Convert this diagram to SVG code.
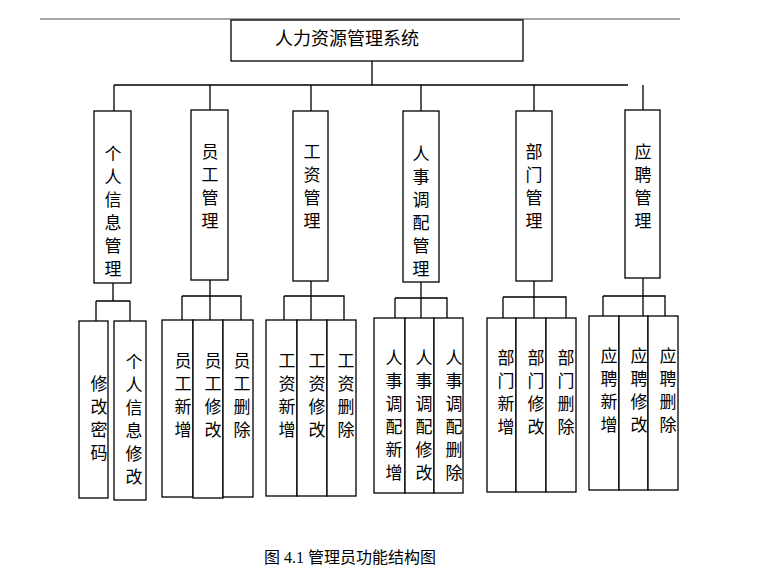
<svg xmlns="http://www.w3.org/2000/svg" width="783" height="578" viewBox="0 0 783 578">
<style>
rect{fill:#fff;stroke:#000;stroke-width:1.3}
line,path{stroke:#000;stroke-width:1.3;fill:none}
text{font-family:"Liberation Serif","Noto Sans CJK SC",serif;font-size:17px;text-anchor:middle;fill:#000}
</style>
<rect width="783" height="578" style="stroke:none"/>
<line x1="40" y1="19" x2="680" y2="19" style="stroke:#888"/>
<g id="connectors">
<path d="M372 61V85M114 85H628M114 85V111M210 85V110M311 85V111M421 85V111M534 85V111M643 85V110"/>
<path d="M113 283V301M96 301H130M96 301V321M130 301V321"/>
<path d="M210 280V320M182 296H241V320M182 296V320"/>
<path d="M311 281V320M284 296H344V320M284 296V320"/>
<path d="M421 282V318M395 298H447V318M395 298V318"/>
<path d="M534 281V318M503 297H566V318M503 297V318"/>
<path d="M643 278V316M603 296H665V316M603 296V316"/>
</g>
<g id="root"><rect x="231" y="20" width="292" height="41"/><text x="347" y="45" style="font-size:18px">人力资源管理系统</text></g>
<g id="m1"><rect x="94" y="111" width="37" height="172"/><text x="113"><tspan x="113" y="160">个</tspan><tspan x="113" y="183">人</tspan><tspan x="113" y="206">信</tspan><tspan x="113" y="229">息</tspan><tspan x="113" y="252">管</tspan><tspan x="113" y="275">理</tspan></text></g>
<g id="m2"><rect x="191" y="110" width="37" height="170"/><text x="210"><tspan x="210" y="158">员</tspan><tspan x="210" y="181">工</tspan><tspan x="210" y="204">管</tspan><tspan x="210" y="227">理</tspan></text></g>
<g id="m3"><rect x="293" y="111" width="35" height="170"/><text x="312"><tspan x="312" y="158">工</tspan><tspan x="312" y="181">资</tspan><tspan x="312" y="204">管</tspan><tspan x="312" y="227">理</tspan></text></g>
<g id="m4"><rect x="403" y="111" width="36" height="171"/><text x="421"><tspan x="421" y="160">人</tspan><tspan x="421" y="183">事</tspan><tspan x="421" y="206">调</tspan><tspan x="421" y="229">配</tspan><tspan x="421" y="252">管</tspan><tspan x="421" y="275">理</tspan></text></g>
<g id="m5"><rect x="516" y="111" width="36" height="170"/><text x="534"><tspan x="534" y="158">部</tspan><tspan x="534" y="181">门</tspan><tspan x="534" y="204">管</tspan><tspan x="534" y="227">理</tspan></text></g>
<g id="m6"><rect x="625" y="110" width="35" height="168"/><text x="643"><tspan x="643" y="158">应</tspan><tspan x="643" y="181">聘</tspan><tspan x="643" y="204">管</tspan><tspan x="643" y="227">理</tspan></text></g>
<g id="l1a"><rect x="79" y="321" width="29" height="177"/><text><tspan x="99" y="390">修</tspan><tspan x="99" y="413">改</tspan><tspan x="99" y="436">密</tspan><tspan x="99" y="459">码</tspan></text></g>
<g id="l1b"><rect x="114" y="321" width="32" height="179"/><text><tspan x="134" y="368">个</tspan><tspan x="134" y="391">人</tspan><tspan x="134" y="414">信</tspan><tspan x="134" y="437">息</tspan><tspan x="134" y="460">修</tspan><tspan x="134" y="483">改</tspan></text></g>
<g id="l2a"><rect x="162" y="320" width="31" height="177"/><text><tspan x="183" y="367">员</tspan><tspan x="183" y="390">工</tspan><tspan x="183" y="413">新</tspan><tspan x="183" y="436">增</tspan></text></g>
<g id="l2b"><rect x="193" y="320" width="30" height="178"/><text><tspan x="213" y="367">员</tspan><tspan x="213" y="390">工</tspan><tspan x="213" y="413">修</tspan><tspan x="213" y="436">改</tspan></text></g>
<g id="l2c"><rect x="223" y="320" width="30" height="177"/><text><tspan x="242" y="367">员</tspan><tspan x="242" y="390">工</tspan><tspan x="242" y="413">删</tspan><tspan x="242" y="436">除</tspan></text></g>
<g id="l3a"><rect x="266" y="320" width="31" height="176"/><text><tspan x="287" y="367">工</tspan><tspan x="287" y="390">资</tspan><tspan x="287" y="413">新</tspan><tspan x="287" y="436">增</tspan></text></g>
<g id="l3b"><rect x="297" y="320" width="30" height="176"/><text><tspan x="317" y="367">工</tspan><tspan x="317" y="390">资</tspan><tspan x="317" y="413">修</tspan><tspan x="317" y="436">改</tspan></text></g>
<g id="l3c"><rect x="327" y="320" width="29" height="176"/><text><tspan x="346" y="367">工</tspan><tspan x="346" y="390">资</tspan><tspan x="346" y="413">删</tspan><tspan x="346" y="436">除</tspan></text></g>
<g id="l4a"><rect x="374" y="318" width="31" height="175"/><text><tspan x="394" y="364">人</tspan><tspan x="394" y="387">事</tspan><tspan x="394" y="410">调</tspan><tspan x="394" y="433">配</tspan><tspan x="394" y="456">新</tspan><tspan x="394" y="479">增</tspan></text></g>
<g id="l4b"><rect x="405" y="318" width="29" height="175"/><text><tspan x="424" y="364">人</tspan><tspan x="424" y="387">事</tspan><tspan x="424" y="410">调</tspan><tspan x="424" y="433">配</tspan><tspan x="424" y="456">修</tspan><tspan x="424" y="479">改</tspan></text></g>
<g id="l4c"><rect x="434" y="318" width="29" height="175"/><text><tspan x="454" y="364">人</tspan><tspan x="454" y="387">事</tspan><tspan x="454" y="410">调</tspan><tspan x="454" y="433">配</tspan><tspan x="454" y="456">删</tspan><tspan x="454" y="479">除</tspan></text></g>
<g id="l5a"><rect x="487" y="318" width="29" height="174"/><text><tspan x="506" y="364">部</tspan><tspan x="506" y="387">门</tspan><tspan x="506" y="410">新</tspan><tspan x="506" y="433">增</tspan></text></g>
<g id="l5b"><rect x="516" y="318" width="30" height="174"/><text><tspan x="536" y="364">部</tspan><tspan x="536" y="387">门</tspan><tspan x="536" y="410">修</tspan><tspan x="536" y="433">改</tspan></text></g>
<g id="l5c"><rect x="546" y="318" width="30" height="174"/><text><tspan x="566" y="364">部</tspan><tspan x="566" y="387">门</tspan><tspan x="566" y="410">删</tspan><tspan x="566" y="433">除</tspan></text></g>
<g id="l6a"><rect x="589" y="316" width="30" height="174"/><text><tspan x="609" y="362">应</tspan><tspan x="609" y="385">聘</tspan><tspan x="609" y="408">新</tspan><tspan x="609" y="431">增</tspan></text></g>
<g id="l6b"><rect x="619" y="316" width="29" height="174"/><text><tspan x="639" y="362">应</tspan><tspan x="639" y="385">聘</tspan><tspan x="639" y="408">修</tspan><tspan x="639" y="431">改</tspan></text></g>
<g id="l6c"><rect x="648" y="316" width="30" height="174"/><text><tspan x="668" y="362">应</tspan><tspan x="668" y="385">聘</tspan><tspan x="668" y="408">删</tspan><tspan x="668" y="431">除</tspan></text></g>
<text x="350" y="563" style="font-size:16px">图 4.1  管理员功能结构图</text>
</svg>
